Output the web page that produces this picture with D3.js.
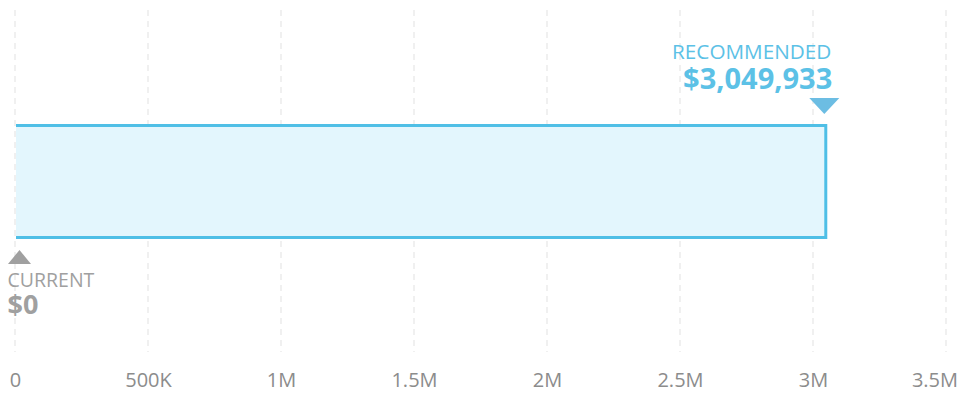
<!DOCTYPE html>
<html>
<head>
<meta charset="utf-8">
<script src="https://cdn.jsdelivr.net/npm/d3@7"></script>
<style>
  html, body { margin: 0; padding: 0; background: #fff; }
  svg { display: block; font-family: "Open Sans", sans-serif; }
</style>
</head>
<body>
<svg id="chart" width="960" height="393"></svg>
<script>
// Values shown on the chart
const currentValue = 0;
const recommendedValue = 3049933;
const tickValues = [0, 500000, 1000000, 1500000, 2000000, 2500000, 3000000, 3500000];
const tickLabels = ["0", "500K", "1M", "1.5M", "2M", "2.5M", "3M", "3.5M"];
const currentTitle = "CURRENT";
const recommendedTitle = "RECOMMENDED";

const W = 960;
const svg = d3.select("#chart");
const x = d3.scaleLinear().domain([0, 3500000]).range([15, 946]);
const money = d3.format("$,");

// Dashed vertical grid
svg.append("g")
  .selectAll("line")
  .data(tickValues)
  .join("line")
  .attr("x1", d => x(d)).attr("x2", d => x(d))
  .attr("y1", 10).attr("y2", 352)
  .attr("stroke", "#ebebeb")
  .attr("stroke-width", 1.5)
  .attr("stroke-dasharray", "6,5");

// Bottom axis labels
const axis = d3.axisBottom(x)
  .tickValues(tickValues)
  .tickFormat((d, i) => tickLabels[i])
  .tickSize(0)
  .tickPadding(0);
const axisG = svg.append("g").attr("transform", "translate(0,369)").call(axis);
axisG.select(".domain").remove();
axisG.selectAll("text")
  .attr("font-family", "'Open Sans', sans-serif")
  .attr("font-size", 20)
  .attr("fill", "#8c8c8c")
  .attr("dy", 0)
  .attr("y", 18);
// keep the labels inside the drawing area
axisG.selectAll(".tick").each(function () {
  const t = d3.select(this).select("text");
  const box = this.getBBox();
  const tx = +d3.select(this).attr("transform").match(/translate\(([-\d.]+)/)[1];
  const overflow = tx + box.x + box.width - (W - 2);
  if (overflow > 0) t.attr("x", -overflow);
});

// Range bar from current to recommended: fill, then outline on top, right and bottom
const x0 = x(currentValue) + 1;
const x1 = x(recommendedValue) - 0.5;
const yTop = 125.5, yBot = 237.5;
svg.append("rect")
  .attr("x", x0).attr("y", yTop)
  .attr("width", x1 - x0).attr("height", yBot - yTop)
  .attr("fill", "#e3f6fd");
svg.append("path")
  .attr("d", d3.line()([[x0, yTop], [x1, yTop], [x1, yBot], [x0, yBot]]))
  .attr("fill", "none")
  .attr("stroke", "#4fbfe6")
  .attr("stroke-width", 3);

// Recommended marker
const rx = x(recommendedValue) - 2;
svg.append("path")
  .attr("d", d3.line()([[rx - 15, 98], [rx + 15, 98], [rx, 114]]) + "Z")
  .attr("fill", "#6cbde3");
svg.append("text")
  .attr("x", rx + 7).attr("y", 59)
  .attr("text-anchor", "end")
  .attr("font-size", 20.7)
  .attr("fill", "#5cc1e6")
  .text(recommendedTitle);
svg.append("text")
  .attr("x", rx + 8).attr("y", 89)
  .attr("text-anchor", "end")
  .attr("font-size", 29)
  .attr("font-weight", "bold")
  .attr("fill", "#5cc1e6")
  .text(money(recommendedValue));

// Current marker
const cx = x(currentValue) + 4.5;
svg.append("path")
  .attr("d", d3.line()([[cx - 11.5, 264], [cx + 11.5, 264], [cx, 250]]) + "Z")
  .attr("fill", "#a0a0a0");
svg.append("text")
  .attr("x", cx - 12).attr("y", 287)
  .attr("font-size", 19.5)
  .attr("fill", "#a0a0a0")
  .text(currentTitle);
svg.append("text")
  .attr("x", cx - 12).attr("y", 314)
  .attr("font-size", 27)
  .attr("font-weight", "bold")
  .attr("fill", "#a0a0a0")
  .text(money(currentValue));
</script>
</body>
</html>
